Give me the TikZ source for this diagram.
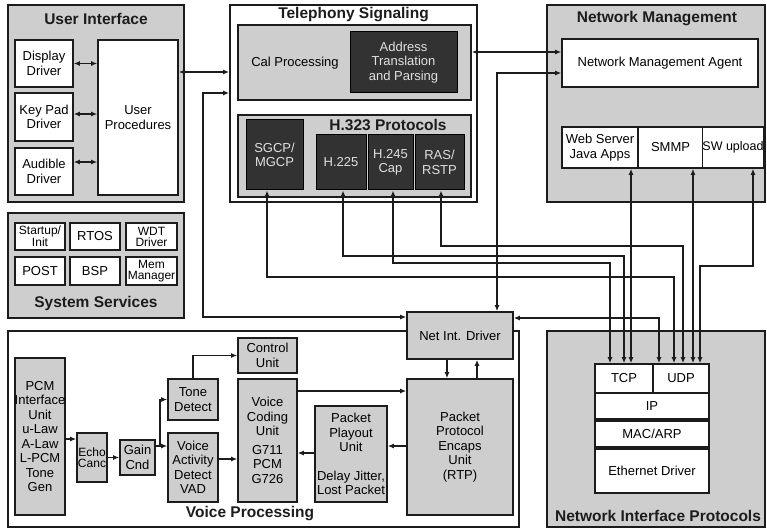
\documentclass[tikz,border=0pt]{standalone}
\usepackage{fontspec}
\setmainfont{Liberation Sans}
\usetikzlibrary{arrows.meta, positioning}
\definecolor{panel}{RGB}{206,206,206}
\definecolor{darkbox}{RGB}{50,50,50}
\definecolor{edge}{RGB}{28,28,28}

\begin{document}
\begin{tikzpicture}[x=1pt, y=-1pt,
    box/.style={draw=edge, line width=1.6pt, inner sep=0pt, align=center,
                font=\fontsize{13}{14.5}\selectfont},
    group/.style={box, line width=1.8pt},
    dark/.style={box, fill=darkbox, draw=black, line width=1pt,
                 text=white!88!black},
    title/.style={font=\fontsize{15.5}{17}\selectfont\bfseries, text=edge},
    tiny/.style={font=\fontsize{12}{11}\selectfont},
    link/.style={-{Latex[length=6pt,width=5pt]}, line width=1.3pt, draw=edge},
    dlink/.style={{Latex[length=6pt,width=5pt]}-{Latex[length=6pt,width=5pt]},
                  line width=1.3pt, draw=edge}
]
\useasboundingbox (0,0) rectangle (767,529);

% User Interface
\node[group, fill=panel, minimum width=176pt, minimum height=197pt] (ui) at (96,103.5) {};
\node[title] (uit) at (96,19) {User Interface};
\node[box, fill=white, minimum width=58pt, minimum height=47pt] (dd) at (44,63.5) {Display\\Driver};
\node[box, fill=white, minimum width=58pt, minimum height=48pt] (kp) at (44,117) {Key Pad\\Driver};
\node[box, fill=white, minimum width=58pt, minimum height=47pt] (ad) at (44,171.5) {Audible\\Driver};
\node[box, fill=white, minimum width=80pt, minimum height=155pt] (up) at (138,117.5) {User\\Procedures};

% Telephony Signaling
\node[group, fill=white, minimum width=247pt, minimum height=197pt] (tel) at (353.5,103.5) {};
\node[title] (telt) at (353.5,15) {Telephony Signaling};
\node[box, fill=panel, minimum width=233pt, minimum height=75pt] (cp) at (354.5,62.5) {};
\node[box, draw=none] (cpt) at (295,63) {Cal Processing};
\node[dark, minimum width=107pt, minimum height=61pt] (atp) at (403.5,62.5) {Address\\Translation\\and Parsing};
\node[box, fill=panel, minimum width=233pt, minimum height=82pt] (h323) at (354.5,156) {};
\node[title] (h323t) at (388,125) {H.323 Protocols};
\node[dark, minimum width=57pt, minimum height=70pt] (sgcp) at (274.5,155) {SGCP/\\MGCP};
\node[dark, minimum width=50pt, minimum height=55pt] (h225) at (341,162.5) {H.225};
\node[dark, minimum width=45pt, minimum height=55pt] (h245) at (390.5,162.5) {H.245\\Cap};
\node[dark, minimum width=49pt, minimum height=55pt] (ras) at (439.5,162.5) {RAS/\\RSTP};

% Network Management
\node[group, fill=panel, minimum width=218pt, minimum height=197pt] (nm) at (656,103.5) {};
\node[title] (nmt) at (657,19) {Network Management};
\node[box, fill=white, minimum width=196pt, minimum height=48pt] (nma) at (660,63) {Network Management Agent};
\node[box, fill=white, minimum width=76pt, minimum height=41pt] (ws) at (600,147.5) {Web Server\\Java Apps};
\node[box, fill=white, minimum width=65pt, minimum height=41pt] (smmp) at (670.5,147.5) {SMMP};
\node[box, fill=white, minimum width=60pt, minimum height=41pt, font=\fontsize{12.5}{14}\selectfont] (swu) at (733,147.5) {SW upload};

% System Services
\node[group, fill=panel, minimum width=176pt, minimum height=105pt] (ss) at (96,265.5) {};
\node[box, tiny, fill=white, minimum width=50pt, minimum height=27pt] (su) at (40,236.5) {Startup/\\Init};
\node[box, fill=white, minimum width=50pt, minimum height=27pt] (rtos) at (95,236.5) {RTOS};
\node[box, tiny, fill=white, minimum width=51pt, minimum height=27pt] (wdt) at (151.5,236.5) {WDT\\Driver};
\node[box, fill=white, minimum width=50pt, minimum height=28pt] (post) at (40,271) {POST};
\node[box, fill=white, minimum width=50pt, minimum height=28pt] (bsp) at (95,271) {BSP};
\node[box, tiny, fill=white, minimum width=51pt, minimum height=28pt] (mem) at (151.5,271) {Mem\\Manager};
\node[title] (sst) at (96,303) {System Services};

% Voice Processing
\node[group, fill=white, minimum width=511pt, minimum height=196pt] (vp) at (263.5,429) {};
\node[title] (vpt) at (250,514) {Voice Processing};
\node[box, fill=panel, minimum width=50pt, minimum height=157pt] (pcm) at (40,436.5)
    {PCM\\Interface\\Unit\\u-Law\\A-Law\\L-PCM\\Tone\\Gen};
\node[box, tiny, fill=panel, minimum width=30pt, minimum height=49pt] (echo) at (92,457.5) {Echo\\Canc};
\node[box, fill=panel, minimum width=35pt, minimum height=35pt] (gain) at (137.5,457.5) {Gain\\Cnd};
\node[box, fill=panel, minimum width=50pt, minimum height=41pt] (tone) at (193,399.5) {Tone\\Detect};
\node[box, fill=panel, minimum width=50pt, minimum height=69pt] (vad) at (193,467.5) {Voice\\Activity\\Detect\\VAD};
\node[box, fill=panel, minimum width=59pt, minimum height=35pt] (ctrl) at (267.5,355.5) {Control\\Unit};
\node[box, fill=panel, minimum width=59pt, minimum height=123pt] (vcu) at (267.5,440.5)
    {Voice\\Coding\\Unit\\[4pt]G711\\PCM\\G726};
\node[box, fill=panel, minimum width=72pt, minimum height=96pt] (ppu) at (351,454)
    {Packet\\Playout\\Unit\\[14pt]Delay Jitter,\\Lost Packet};
\node[box, fill=panel, minimum width=106pt, minimum height=136pt] (ppeu) at (460,447)
    {Packet\\Protocol\\Encaps\\Unit\\(RTP)};
\node[box, fill=panel, minimum width=106pt, minimum height=47pt] (nid) at (460,335.5) {Net Int. Driver};

% Network Interface Protocols
\node[group, fill=panel, minimum width=218pt, minimum height=196pt] (nip) at (656,429) {};
\node[title] (nipt) at (658,516) {Network Interface Protocols};
\node[box, fill=white, minimum width=58pt, minimum height=29pt] (tcp) at (624,378.5) {TCP};
\node[box, fill=white, minimum width=56pt, minimum height=29pt] (udp) at (681,378.5) {UDP};
\node[box, fill=white, minimum width=114pt, minimum height=26pt] (ip) at (652,406) {IP};
\node[box, fill=white, minimum width=114pt, minimum height=26pt] (mac) at (652,434) {MAC/ARP};
\node[box, fill=white, minimum width=114pt, minimum height=44pt] (eth) at (652,471) {Ethernet Driver};

% User interface links
\draw[dlink] (dd.east) -- (dd.east -| up.west);
\draw[dlink] (kp.east |- 0,114) -- (up.west |- 0,114);
\draw[dlink] (ad.east |- 0,162) -- (up.west |- 0,162);
\draw[dlink] (up.east |- 0,72) -- (tel.west |- 0,72);
\draw[dlink] (tel.west |- 0,93) -| (203,317) -- (nid.west |- 0,317);

% Management links
\draw[dlink] (cp.east |- 0,52) -- (nma.west |- 0,52);
\draw[dlink] (nid.north -| 497,0) |- (nma.west |- 0,73);
\draw[dlink] (nid.east |- 0,318) -| (udp.north -| 659,0);

% Protocol links to TCP/UDP
\draw[dlink] (sgcp.south -| 267,0) |- (674,277) -- (udp.north -| 674,0);
\draw[dlink] (h225.south -| 343,0) |- (624,256) -- (tcp.north -| 624,0);
\draw[dlink] (h245.south -| 393,0) |- (610,263) -- (tcp.north -| 610,0);
\draw[dlink] (ras.south -| 441,0) |- (683,246) -- (udp.north -| 683,0);
\draw[dlink] (ws.south -| 631,0) -- (tcp.north -| 631,0);
\draw[dlink] (smmp.south -| 693,0) -- (udp.north -| 693,0);
\draw[dlink] (swu.south -| 753,0) |- (700,266) -- (udp.north -| 700,0);

% Voice path
\coordinate (split) at (160,446);
\draw[link] (pcm.east |- 0,439) -- (echo.west |- 0,439);
\draw[link] (echo.east |- gain.west) -- (gain.west);
\draw[link] (gain.east |- split) -- (vad.west |- split);
\draw[link] (split) |- (tone.west);
\draw[link] (tone.north) |- (ctrl.west);
\draw[link] (vad.east |- 0,459) -- (vcu.west |- 0,459);
\draw[link] (vcu.east |- 0,391) -- (ppeu.west |- 0,391);
\draw[link] (ppeu.west |- 0,446) -- (ppu.east |- 0,446);
\draw[link] (ppu.west |- 0,453) -- (vcu.east |- 0,453);
\draw[link] (nid.south -| 447,0) -- (ppeu.north -| 447,0);
\draw[link] (ppeu.north -| 477,0) -- (nid.south -| 477,0);

\end{tikzpicture}
\end{document}
